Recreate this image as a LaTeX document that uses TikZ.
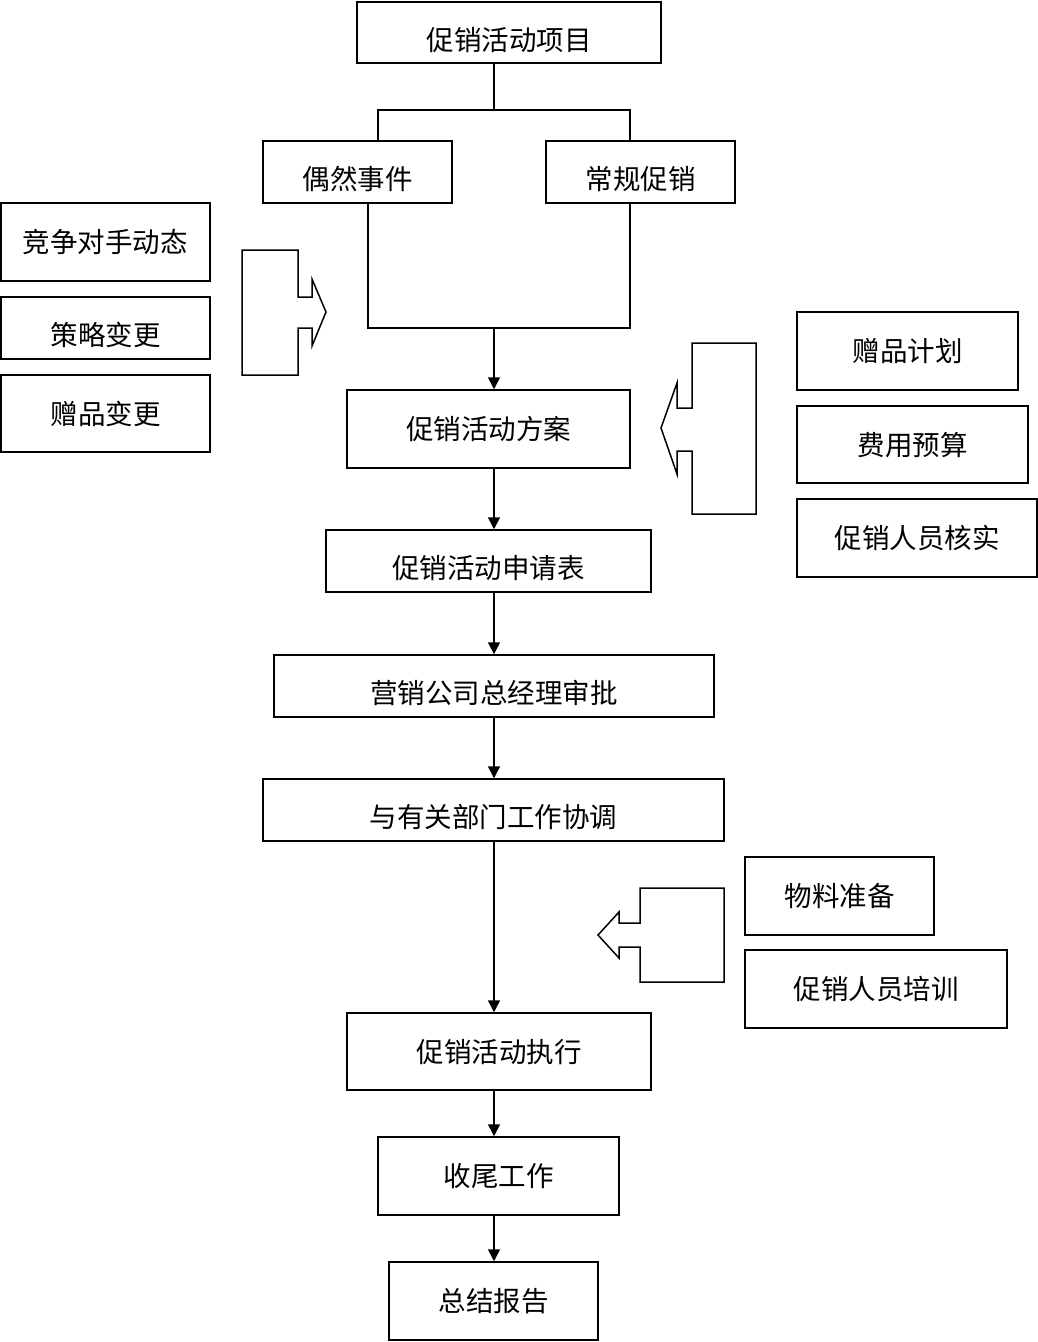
\documentclass[tikz,border=0pt]{standalone}
\usepackage{fontspec}
\newfontfamily\cjkfont{Noto Sans CJK SC}
\usepackage{tikz}
\usetikzlibrary{arrows.meta, calc, positioning}

\tikzset{
    box/.style={draw, rectangle, line width=1.5pt, inner sep=0pt,
        font=\fontsize{27.5}{30}\cjkfont, text height=21pt, text depth=0pt},
    lowbox/.style={box, text height=35pt},
    arr/.style={-{Triangle[width=12pt, length=12pt]}, line width=1.5pt},
    blockarrow/.style={draw, line width=1.5pt, line join=miter}
}

\begin{document}
\begin{tikzpicture}[x=1pt, y=-1pt]
                        \useasboundingbox (0, 0) rectangle (1038, 1342);

                        \node[lowbox, minimum width=304pt, minimum height=61pt] (item) at (509, 32.5) {促销活动项目};
                        \node[lowbox, minimum width=189pt, minimum height=62pt] (ouran) at (357.5, 172) {偶然事件};
                        \node[lowbox, minimum width=189pt, minimum height=62pt] (changgui) at (640.5, 172) {常规促销};

                        \node[box, minimum width=209pt, minimum height=78pt] (rival) at (105.5, 242) {竞争对手动态};
                        \node[lowbox, minimum width=209pt, minimum height=62pt] (strategy) at (105.5, 328) {策略变更};
                        \node[box, minimum width=209pt, minimum height=77pt] (giftchg) at (105.5, 413.5) {赠品变更};

                        \node[box, minimum width=283pt, minimum height=78pt] (plan) at (488.5, 429) {促销活动方案};

                        \node[box, minimum width=221pt, minimum height=78pt] (giftplan) at (907.5, 351) {赠品计划};
                        \node[box, minimum width=231pt, minimum height=77pt] (budget) at (912.5, 444.5) {费用预算};
                        \node[box, minimum width=240pt, minimum height=78pt] (staffchk) at (917, 538) {促销人员核实};

                        \node[lowbox, minimum width=325pt, minimum height=62pt] (apply) at (488.5, 561) {促销活动申请表};
                        \node[lowbox, minimum width=440pt, minimum height=62pt] (approve) at (494, 686) {营销公司总经理审批};
                        \node[lowbox, minimum width=461pt, minimum height=62pt] (coord) at (493.5, 810) {与有关部门工作协调};

                        \node[box, minimum width=189pt, minimum height=78pt] (material) at (839.5, 896) {物料准备};
                        \node[box, minimum width=262pt, minimum height=78pt] (training) at (876, 989) {促销人员培训};

                        \node[box, minimum width=304pt, minimum height=77pt] (exec) at (499, 1051.5) {促销活动执行};
                        \node[box, minimum width=241pt, minimum height=78pt] (close) at (498.5, 1176) {收尾工作};
                        \node[box, minimum width=209pt, minimum height=78pt] (report) at (493.5, 1301) {总结报告};

                        % split and join of the two sources
                        \coordinate (axis) at (494, 110);
                        \coordinate (sl) at (378, 110);
                        \coordinate (sr) at (630, 110);
                        \coordinate (jl) at (368, 328);
                        \coordinate (jr) at (630, 328);
                        \coordinate (join) at (494, 328);

                        \draw[line width=1.5pt] (item.south -| axis) -- (axis);
                        \draw[line width=1.5pt] (sl |- ouran.north) -- (sl) -- (sr) -- (sr |- changgui.north);
                        \draw[line width=1.5pt] (jl |- ouran.south) -- (jl) -- (jr) -- (jr |- changgui.south);

                        \draw
                        (join) edge[arr] (plan.north -| axis)
                        (plan.south -| axis) edge[arr] (apply.north -| axis)
                        (apply.south -| axis) edge[arr] (approve.north -| axis)
                        (approve.south -| axis) edge[arr] (coord.north -| axis)
                        (coord.south -| axis) edge[arr] (exec.north -| axis)
                        (exec.south -| axis) edge[arr] (close.north -| axis)
                        (close.south -| axis) edge[arr] (report.north -| axis);

                        % block arrows
                        \draw[blockarrow] (242, 250) -- (298, 250) -- (298, 297) -- (312, 297) -- (312, 279) -- (326, 312)
                        -- (312, 346) -- (312, 328) -- (298, 328) -- (298, 375) -- (242, 375) -- cycle;
                        \draw[blockarrow] (756, 343) -- (692, 343) -- (692, 408) -- (677, 408) -- (677, 383) -- (661, 428)
                        -- (677, 474) -- (677, 451) -- (692, 451) -- (692, 514) -- (756, 514) -- cycle;
                        \draw[blockarrow] (724, 888) -- (640, 888) -- (640, 923) -- (619, 923) -- (619, 912) -- (598, 935)
                        -- (619, 958) -- (619, 947) -- (640, 947) -- (640, 982) -- (724, 982) -- cycle;
                    \end{tikzpicture}
\end{document}
